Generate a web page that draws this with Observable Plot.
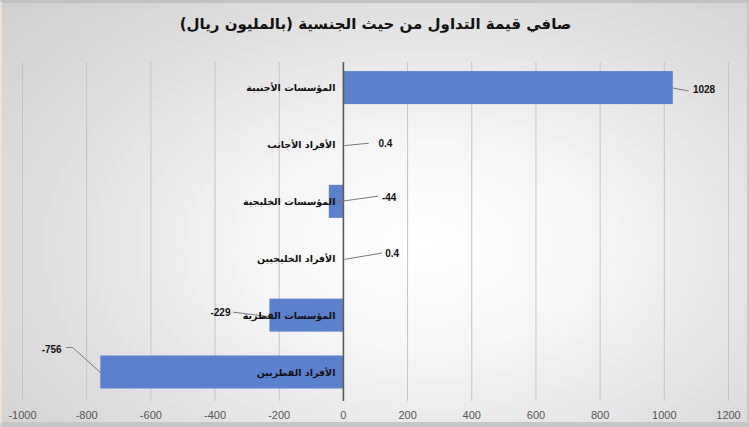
<!DOCTYPE html>
<html>
<head>
<meta charset="utf-8">
<script src="https://cdn.jsdelivr.net/npm/d3@7"></script>
<script src="https://cdn.jsdelivr.net/npm/@observablehq/plot@0.6"></script>
<style>
  html, body { margin: 0; padding: 0; }
  #wrap {
    position: relative; width: 749px; height: 427px; box-sizing: border-box; overflow: hidden;
    background: radial-gradient(ellipse 75% 85% at 57% 58%, #ffffff 0%, #f6f6f6 30%, #dedede 70%, #d0d0d0 100%);
    border-top: 3px solid #c2c2c2; border-bottom: 5px solid #c6c6c6; border-left: 2px solid #efe3d8; border-right: 2px solid #c8c8c8;
  }
  #title {
    height: 42px; line-height: 42px; text-align: center; direction: rtl;
    font-family: "DejaVu Sans", Arial, sans-serif; font-weight: bold; font-size: 15px; color: #111;
    padding-left: 2px;
  }
  svg { display: block; background: transparent !important; }
</style>
</head>
<body>
<div id="wrap">
  <div id="title">صافي قيمة التداول من حيث الجنسية (بالمليون ريال)</div>
  <div id="chart"></div>
</div>
<script>
// Categories (top to bottom) and net values (million QAR)
const categories = ["المؤسسات الأجنبية", "الأفراد الأجانب", "المؤسسات الخليجية", "الأفراد الخليجيين", "المؤسسات القطرية", "الأفراد القطريين"];
const values = [1028, 0.4, -44, 0.4, -229, -756];
const valueLabels = ["1028", "0.4", "-44", "0.4", "-229", "-756"];
const xTicks = [-1000, -800, -600, -400, -200, 0, 200, 400, 600, 800, 1000, 1200];

// Manual data-label placement (as in the source chart), in axis units: label x, label row shift, leader start/end
const labelX = [1089, 109, 120, 130, -352, -878];
const labelShift = [0.03, -0.02, -0.08, -0.09, -0.05, -0.40];
const labelAnchor = ["start", "start", "start", "start", "end", "end"];
const leaderFrom = [[1028, 0], [5, 0.01], [-32, 0.01], [5, 0.01], [-229, 0.02], [-757, 0]];
const leaderVia = [[1075, 0.05], [78, -0.03], [108, -0.10], [120, -0.10], [-343, -0.06], [-844, -0.44]];
const leaderTo = [[1075, 0.05], [78, -0.03], [108, -0.10], [120, -0.10], [-343, -0.06], [-863, -0.44]];

const rows = categories.map((c, i) => ({cat: c, value: values[i], i, label: valueLabels[i],
  lx: labelX[i], ly: i + labelShift[i], anchor: labelAnchor[i]}));
const leaders = rows.flatMap((r, i) => [
  {k: i, x: leaderFrom[i][0], y: i + leaderFrom[i][1]},
  {k: i, x: leaderVia[i][0], y: i + leaderVia[i][1]},
  {k: i, x: leaderTo[i][0], y: i + leaderTo[i][1]}
]);
const half = 0.29;

const arFont = "DejaVu Sans, Arial, sans-serif";
const chart = Plot.plot({
  width: 745,
  height: 377,
  marginTop: 17,
  marginBottom: 21,
  marginLeft: 20,
  marginRight: 19,
  style: {background: "transparent", fontFamily: "Liberation Sans, Arial, sans-serif"},
  x: {domain: [-1000, 1200], ticks: xTicks, tickSize: 0, tickPadding: 8, label: null, tickFormat: d => String(d)},
  y: {domain: [-0.45, 5.51], reverse: true, axis: null},
  marks: [
    Plot.ruleX(xTicks.filter(t => t !== 0), {stroke: "#c4c4c4", strokeWidth: 1}),
    Plot.rectX(rows, {x1: 0, x2: "value", y1: d => d.i - half, y2: d => d.i + half, fill: "#5b80cd"}),
    Plot.ruleX([0], {stroke: "#5a5a5a", strokeWidth: 1.6}),
    Plot.line(leaders, {x: "x", y: "y", z: "k", stroke: "#7a7a7a", strokeWidth: 1}),
    Plot.text(rows, {x: 0, y: "i", text: "cat", textAnchor: "end", dx: -8, fontWeight: "bold", fontSize: 9.5, fill: "#111", fontFamily: arFont}),
    Plot.text(rows.filter(r => r.anchor === "start"), {x: "lx", y: "ly", text: "label", textAnchor: "start", fontWeight: "bold", fontSize: 10, fill: "#111"}),
    Plot.text(rows.filter(r => r.anchor === "end"), {x: "lx", y: "ly", text: "label", textAnchor: "end", fontWeight: "bold", fontSize: 10, fill: "#111"}),
    Plot.axisX({ticks: xTicks, tickSize: 0, tickPadding: 10, fontSize: 11, color: "#555", tickFormat: d => String(d), label: null})
  ]
});
document.getElementById("chart").appendChild(chart);
</script>
</body>
</html>
